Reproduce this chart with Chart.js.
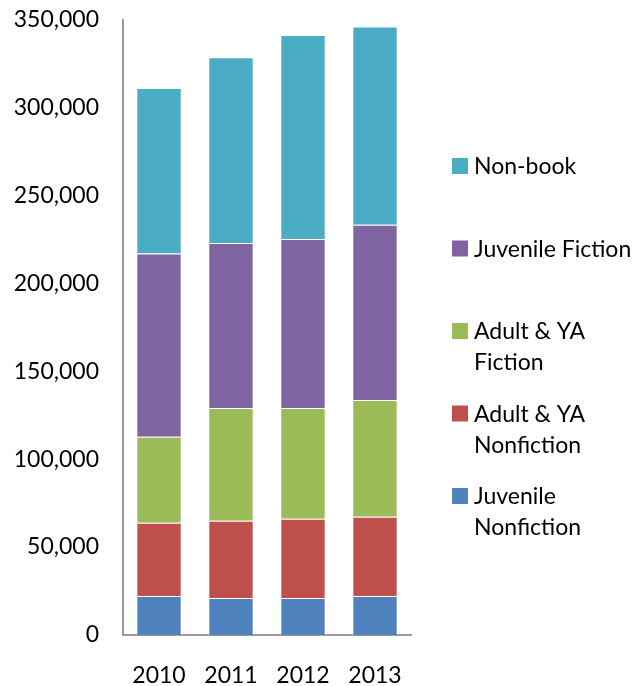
<!DOCTYPE html>
<html>
<head>
<meta charset="utf-8">
<script src="https://cdn.jsdelivr.net/npm/chart.js@4.4.0/dist/chart.umd.min.js"></script>
<style>
html,body{margin:0;padding:0;background:#fff;}
#wrap{width:634px;height:686px;}
</style>
</head>
<body>
<div id="wrap"><canvas id="c" width="634" height="686"></canvas></div>
<script>
const categories = ['2010', '2011', '2012', '2013'];
const juvenileNonfiction = [22200, 21000, 21000, 22200];
const adultYaNonfiction = [41700, 44000, 45100, 45100];
const adultYaFiction = [48900, 64100, 63000, 66300];
const juvenileFiction = [104100, 93800, 96100, 99700];
const nonBook = [94200, 105600, 116000, 112700];
const yTicks = [0, 50000, 100000, 150000, 200000, 250000, 300000, 350000];

const FONT = 'Lato, "Open Sans", sans-serif';

const legendPlugin = {
  id: 'sideLegend',
  afterDraw(chart) {
    const ctx = chart.ctx;
    const ds = chart.data.datasets.slice().reverse();
    const x0 = 452, box = 16, textX = 474;
    const firstY = 166, step = 82.5, lineH = 31;
    ctx.save();
    ctx.font = '23px ' + FONT;
    ctx.textBaseline = 'middle';
    ctx.textAlign = 'left';
    ds.forEach((d, i) => {
      const cy = firstY + i * step;
      ctx.fillStyle = d.backgroundColor;
      ctx.fillRect(x0, cy - box / 2, box, box);
      ctx.fillStyle = '#000';
      d.label.split('\n').forEach((line, j) => {
        ctx.fillText(line, textX, cy + j * lineH + 1);
      });
    });
    ctx.restore();
  }
};

const mk = (label, data, color) => ({
  label, data, backgroundColor: color,
  borderColor: 'rgba(255,255,255,0.45)', borderWidth: 1,
  barPercentage: 0.63, categoryPercentage: 1.0
});

new Chart(document.getElementById('c'), {
  type: 'bar',
  data: {
    labels: categories,
    datasets: [
      mk('Juvenile\nNonfiction', juvenileNonfiction, '#4F81BD'),
      mk('Adult & YA\nNonfiction', adultYaNonfiction, '#C0504D'),
      mk('Adult & YA\nFiction', adultYaFiction, '#9BBB59'),
      mk('Juvenile Fiction', juvenileFiction, '#8064A2'),
      mk('Non-book', nonBook, '#4BACC6')
    ]
  },
  options: {
    responsive: false,
    animation: false,
    devicePixelRatio: 1,
    layout: { padding: { top: 19.5, right: 223, left: 0, bottom: 0 } },
    plugins: { legend: { display: false }, tooltip: { enabled: false } },
    scales: {
      x: {
        stacked: true,
        grid: { display: false },
        border: { display: true, color: '#9a9a9a', width: 2 },
        ticks: { color: '#000', font: { family: FONT, size: 23 }, padding: 19 },
        afterFit(s) { s.height = 51; s.paddingLeft = 0; s.paddingRight = 0; }
      },
      y: {
        stacked: true,
        min: 0, max: 350000,
        grid: { display: false },
        border: { display: true, color: '#9a9a9a', width: 2 },
        afterBuildTicks(s) { s.ticks = yTicks.map(v => ({ value: v })); },
        ticks: {
          color: '#000', font: { family: FONT, size: 23 }, padding: 16,
          callback: v => v.toLocaleString('en-US')
        },
        afterFit(s) { s.width = 123; s.paddingTop = 0; s.paddingBottom = 0; }
      }
    }
  },
  plugins: [legendPlugin]
});
</script>
</body>
</html>
